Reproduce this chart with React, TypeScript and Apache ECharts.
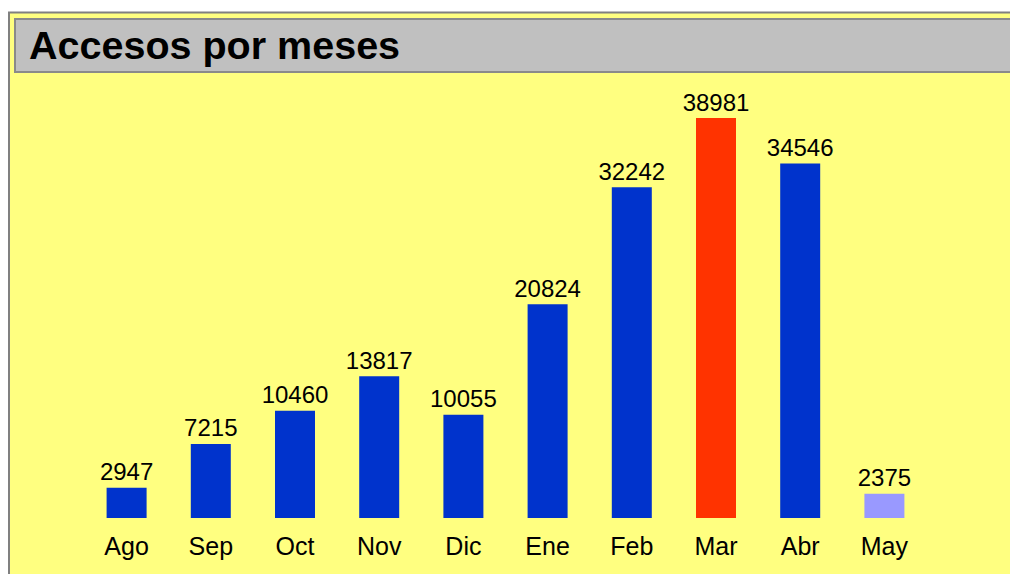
import React, { useEffect, useRef } from "react";
import * as echarts from "echarts";

const months = ["Ago", "Sep", "Oct", "Nov", "Dic", "Ene", "Feb", "Mar", "Abr", "May"];
const accesses = [2947, 7215, 10460, 13817, 10055, 20824, 32242, 38981, 34546, 2375];
const barColors = ["#0033cc", "#0033cc", "#0033cc", "#0033cc", "#0033cc", "#0033cc", "#0033cc", "#ff3300", "#0033cc", "#9999ff"];
const titleText = "Accesos por meses";

export default function App() {
  const ref = useRef<HTMLDivElement>(null);
  useEffect(() => {
    if (!ref.current) return;
    const chart = echarts.init(ref.current, undefined, { renderer: "svg" });
    const font = "'Liberation Sans', Arial, sans-serif";
    chart.setOption({
      animation: false,
      backgroundColor: "#ffffff",
      graphic: [
        {
          type: "rect",
          z: -10,
          shape: { x: 9, y: 12.5, width: 1010, height: 570 },
          style: { fill: "#ffff80", stroke: "#808080", lineWidth: 2 },
        },
        {
          type: "rect",
          z: -9,
          shape: { x: 15, y: 19, width: 1010, height: 53 },
          style: { fill: "#c0c0c0", stroke: "#8a8a8a", lineWidth: 2 },
        },
      ],
      title: {
        text: titleText,
        left: 29,
        top: 25,
        padding: 0,
        textStyle: { fontFamily: font, fontSize: 39.5, fontWeight: "bold", color: "#000" },
      },
      grid: { left: 84.5, right: 83.5, top: 107.6, bottom: 56, containLabel: false },
      xAxis: {
        type: "category",
        data: months,
        axisLine: { show: false },
        axisTick: { show: false },
        splitLine: { show: false },
        axisLabel: { fontFamily: font, fontSize: 25, color: "#000", margin: 15 },
      },
      yAxis: { type: "value", min: 0, max: 40000, show: false },
      series: [
        {
          type: "bar",
          barWidth: 40,
          data: accesses.map((v, i) => ({ value: v, itemStyle: { color: barColors[i] } })),
          label: {
            show: true,
            position: "top",
            distance: 4,
            fontFamily: font,
            fontSize: 24,
            color: "#000",
          },
        },
      ],
    });
    return () => chart.dispose();
  }, []);
  return (
    <div
      ref={ref}
      style={{ position: "absolute", left: 0, top: 0, width: 1010, height: 574 }}
    />
  );
}
